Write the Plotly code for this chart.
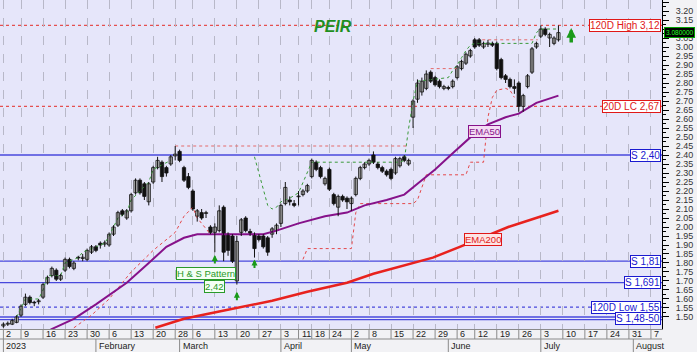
import pandas as pd
import plotly.graph_objects as go

# ---------------- data ----------------
holidays = ["2023-01-06", "2023-02-27", "2023-04-07", "2023-04-10",
            "2023-04-14", "2023-04-17", "2023-05-01", "2023-06-05"]

opens = [1.450, 1.460, 1.460, 1.470, 1.510, 1.570, 1.610, 1.580, 1.585, 1.610,
         1.690, 1.730, 1.760, 1.710, 1.760, 1.820, 1.770, 1.830, 1.825, 1.820,
         1.860, 1.890, 1.910, 1.905, 1.900, 1.960, 2.010, 2.090, 2.050, 2.090,
         2.190, 2.260, 2.240, 2.140, 2.250, 2.330, 2.360, 2.330, 2.350, 2.395,
         2.420, 2.330, 2.280, 2.200, 2.060, 2.080, 2.075, 2.000, 1.970, 1.980,
         2.110, 1.960, 1.950, 1.700, 1.970, 2.050, 1.975, 1.960, 1.950, 1.950,
         1.940, 1.960, 1.980, 2.020, 2.130, 2.150, 2.130, 2.168, 2.180, 2.200,
         2.280, 2.360, 2.330, 2.240, 2.320, 2.180, 2.110, 2.170, 2.160, 2.130,
         2.180, 2.270, 2.330, 2.350, 2.400, 2.350, 2.330, 2.310, 2.320, 2.300,
         2.340, 2.390, 2.350, 2.610, 2.710, 2.750, 2.770, 2.860, 2.830, 2.810,
         2.770, 2.775, 2.780, 2.830, 2.880, 2.910, 2.950, 3.040, 3.040, 3.000,
         3.015, 3.020, 3.020, 2.930, 2.840, 2.820, 2.780, 2.800, 2.670, 2.780,
         2.860, 3.000, 3.060, 3.100, 3.050, 3.020, 3.040]
highs = [1.470, 1.475, 1.490, 1.510, 1.570, 1.630, 1.620, 1.590, 1.600, 1.690,
         1.730, 1.780, 1.770, 1.740, 1.830, 1.830, 1.810, 1.840, 1.850, 1.880,
         1.900, 1.900, 1.920, 1.925, 1.970, 2.010, 2.090, 2.100, 2.100, 2.190,
         2.270, 2.270, 2.250, 2.250, 2.340, 2.390, 2.370, 2.340, 2.400, 2.450,
         2.430, 2.340, 2.300, 2.210, 2.100, 2.100, 2.090, 2.010, 2.020, 2.120,
         2.120, 1.970, 1.960, 1.950, 2.050, 2.060, 1.990, 1.970, 1.960, 1.960,
         1.950, 2.000, 2.020, 2.130, 2.250, 2.170, 2.150, 2.200, 2.210, 2.240,
         2.380, 2.370, 2.340, 2.280, 2.330, 2.190, 2.180, 2.180, 2.170, 2.170,
         2.280, 2.340, 2.360, 2.380, 2.420, 2.360, 2.340, 2.320, 2.330, 2.390,
         2.390, 2.400, 2.380, 2.710, 2.820, 2.830, 2.870, 2.870, 2.840, 2.820,
         2.790, 2.785, 2.820, 2.900, 2.930, 2.970, 2.990, 3.050, 3.050, 3.030,
         3.040, 3.030, 3.030, 2.940, 2.850, 2.830, 2.820, 2.810, 2.740, 2.850,
         3.000, 3.030, 3.120, 3.110, 3.080, 3.060, 3.120]
lows = [1.440, 1.450, 1.455, 1.465, 1.500, 1.560, 1.570, 1.560, 1.570, 1.600,
        1.680, 1.720, 1.700, 1.700, 1.750, 1.770, 1.760, 1.815, 1.810, 1.810,
        1.850, 1.860, 1.880, 1.890, 1.890, 1.950, 2.000, 2.060, 2.040, 2.080,
        2.180, 2.180, 2.150, 2.120, 2.240, 2.320, 2.250, 2.280, 2.340, 2.370,
        2.360, 2.250, 2.210, 2.090, 2.030, 2.040, 2.050, 1.960, 1.860, 1.970,
        1.810, 1.840, 1.800, 1.680, 1.950, 1.970, 1.950, 1.830, 1.920, 1.880,
        1.840, 1.940, 1.960, 2.000, 2.120, 2.120, 2.110, 2.120, 2.170, 2.190,
        2.270, 2.310, 2.270, 2.230, 2.200, 2.120, 2.060, 2.140, 2.100, 2.090,
        2.170, 2.260, 2.320, 2.340, 2.350, 2.320, 2.300, 2.280, 2.260, 2.290,
        2.330, 2.360, 2.340, 2.550, 2.690, 2.730, 2.760, 2.800, 2.780, 2.770,
        2.760, 2.760, 2.770, 2.820, 2.870, 2.900, 2.940, 2.990, 3.000, 2.990,
        3.000, 3.000, 2.870, 2.820, 2.800, 2.770, 2.740, 2.640, 2.640, 2.770,
        2.850, 2.990, 3.050, 3.060, 3.000, 3.010, 3.030]
closes = [1.460, 1.465, 1.480, 1.500, 1.560, 1.610, 1.580, 1.578, 1.590, 1.680,
          1.720, 1.770, 1.710, 1.730, 1.820, 1.780, 1.800, 1.828, 1.832, 1.870,
          1.890, 1.870, 1.900, 1.912, 1.960, 2.000, 2.080, 2.070, 2.090, 2.180,
          2.260, 2.190, 2.170, 2.240, 2.330, 2.370, 2.280, 2.300, 2.390, 2.405,
          2.370, 2.260, 2.220, 2.100, 2.090, 2.050, 2.080, 1.970, 2.000, 2.090,
          1.860, 1.870, 1.810, 1.920, 2.040, 1.980, 1.965, 1.880, 1.930, 1.890,
          1.860, 1.990, 2.010, 2.120, 2.220, 2.140, 2.120, 2.172, 2.200, 2.230,
          2.370, 2.320, 2.280, 2.270, 2.210, 2.130, 2.170, 2.150, 2.140, 2.160,
          2.270, 2.330, 2.350, 2.370, 2.360, 2.330, 2.310, 2.290, 2.270, 2.380,
          2.380, 2.370, 2.370, 2.700, 2.800, 2.810, 2.850, 2.810, 2.790, 2.780,
          2.780, 2.770, 2.810, 2.890, 2.920, 2.960, 2.980, 3.000, 3.010, 3.020,
          3.022, 3.010, 2.880, 2.830, 2.820, 2.780, 2.770, 2.670, 2.730, 2.840,
          2.990, 3.020, 3.100, 3.070, 3.070, 3.050, 3.080]

# EMA lines (trading-day index, value)
ema50_x = [10.7, 16, 21, 27, 28, 33, 37, 41, 44, 59, 62, 67, 73, 78, 82, 87, 91,
           94, 98, 102, 107, 110, 114, 117, 121, 126]
ema50_y = [1.43, 1.49, 1.57, 1.67, 1.69, 1.80, 1.89, 1.94, 1.96, 1.96, 1.98, 2.02,
           2.06, 2.08, 2.12, 2.15, 2.18, 2.24, 2.32, 2.41, 2.52, 2.57, 2.61, 2.63,
           2.69, 2.73]
ema200_x = [34.5, 41, 49, 55, 61, 69, 78, 84, 91.5, 97.5, 103.6, 107.6, 114.6,
            119.7, 126]
ema200_y = [1.44, 1.49, 1.53, 1.56, 1.59, 1.64, 1.69, 1.74, 1.79, 1.83, 1.89,
            1.93, 2.00, 2.04, 2.09]

# trailing stop lines (dotted)
red_trail1_x = [16, 20, 24, 29, 34, 39, 41, 43, 44, 46, 47]
red_trail1_y = [1.44, 1.51, 1.60, 1.75, 1.87, 1.97, 2.06, 2.11, 2.05, 1.99, 1.96]
red_trail2_x = [68, 69, 79, 80, 81, 93, 94, 95, 96, 105, 106, 109, 110, 111, 112,
                114, 115, 116]
red_trail2_y = [1.82, 1.88, 1.88, 2.08, 2.13, 2.13, 2.15, 2.22, 2.29, 2.29, 2.36,
                2.36, 2.61, 2.72, 2.76, 2.77, 2.76, 2.72]
green_trail0_x = [3, 4, 5, 8, 9, 10, 13, 14, 17, 18, 22, 23, 24, 26, 28, 29, 33,
                  34, 38]
green_trail0_y = [1.50, 1.55, 1.60, 1.60, 1.65, 1.73, 1.73, 1.80, 1.83, 1.86, 1.90,
                  1.91, 1.95, 2.05, 2.08, 2.15, 2.25, 2.32, 2.37]
green_trail_x = [57, 58, 59, 60, 61, 62, 63, 65, 67, 68, 69, 70, 90, 91, 92, 93,
                 94, 101, 102, 103, 104, 105, 106, 107, 120, 121, 122, 126]
green_trail_y = [2.39, 2.30, 2.20, 2.12, 2.10, 2.11, 2.14, 2.16, 2.19, 2.25, 2.30,
                 2.36, 2.36, 2.37, 2.55, 2.70, 2.81, 2.83, 2.87, 2.90, 2.94, 2.98,
                 3.01, 3.02, 3.02, 3.08, 3.10, 3.10]
# short red resistance segments
res_segments = [(39, 92, 2.45), (97, 103, 2.88), (108.7, 121.3, 3.04)]

# horizontal levels
support_levels = [2.40, 1.81, 1.691, 1.50, 1.485]
level_labels = [("120D High 3,12", 3.12, "red"), ("20D LC 2,67", 2.67, "red"),
                ("S 2,40", 2.40, "blue"), ("S 1,81", 1.81, "blue"),
                ("S 1,691", 1.691, "blue"), ("120D Low 1,55", 1.555, "blue"),
                ("S 1,48-50", 1.4925, "blue")]
dotted_red_levels = [3.12, 2.67]
dotted_blue_levels = [1.555]
last_price = 3.08

tick_dates = ["2023-01-02", "2023-01-09", "2023-01-16", "2023-01-23", "2023-01-30",
              "2023-02-06", "2023-02-13", "2023-02-20", "2023-02-28", "2023-03-06",
              "2023-03-13", "2023-03-20", "2023-03-27", "2023-04-03", "2023-04-11",
              "2023-04-18", "2023-04-24", "2023-05-02", "2023-05-08", "2023-05-15",
              "2023-05-22", "2023-05-29", "2023-06-06", "2023-06-12", "2023-06-19",
              "2023-06-26", "2023-07-03", "2023-07-10", "2023-07-17", "2023-07-24",
              "2023-07-31", "2023-08-07"]
month_dates = ["2023-01-02", "2023-02-01", "2023-03-01", "2023-04-03", "2023-05-02",
               "2023-06-01", "2023-07-03", "2023-08-01"]
month_labels = ["2023", "February", "March", "April", "May", "June", "July", "August"]

y_ticks = [round(1.50 + 0.05 * k, 2) for k in range(36)]
hidden_tick_labels = [3.10]   # covered by the last-price tag

# ---------------- build ----------------
days = [d for d in pd.bdate_range("2023-01-02", "2023-08-31")
        if d.strftime("%Y-%m-%d") not in holidays]
day_index = {d.strftime("%Y-%m-%d"): i for i, d in enumerate(days)}
n = len(closes)
idx = list(range(n))

fig = go.Figure()

for xs, ys in [(red_trail1_x, red_trail1_y), (red_trail2_x, red_trail2_y)]:
    fig.add_trace(go.Scatter(x=xs, y=ys, mode="lines",
                             line=dict(color="#e4484a", width=1, dash="dot")))
for xs, ys in [(green_trail0_x, green_trail0_y), (green_trail_x, green_trail_y)]:
    fig.add_trace(go.Scatter(x=xs, y=ys, mode="lines",
                             line=dict(color="#3a9a3a", width=1, dash="dot")))
for x0, x1, v in res_segments:
    fig.add_trace(go.Scatter(x=[x0, x1], y=[v, v], mode="lines",
                             line=dict(color="#e46a6a", width=1, dash="dot")))

fig.add_trace(go.Scatter(x=ema200_x, y=ema200_y, mode="lines",
                         line=dict(color="#e8221e", width=2.5)))
fig.add_trace(go.Scatter(x=ema50_x, y=ema50_y, mode="lines",
                         line=dict(color="#86128a", width=2)))

wx, wy = [], []
for i in idx:
    wx += [i, i, None]
    wy += [lows[i], highs[i], None]
fig.add_trace(go.Scatter(x=wx, y=wy, mode="lines", line=dict(color="#111", width=1)))

for up in (True, False):
    sel = [i for i in idx if (closes[i] >= opens[i]) == up]
    base = [min(opens[i], closes[i]) for i in sel]
    hgt = [max(abs(closes[i] - opens[i]), 0.004) for i in sel]
    fig.add_trace(go.Bar(x=sel, y=hgt, base=base, width=0.75,
                         marker=dict(color="#d6d6d6" if up else "#111111",
                                     line=dict(color="#111111", width=0.8))))

shapes = []
for v in support_levels:
    shapes.append(dict(type="line", xref="paper", x0=0, x1=1, yref="y", y0=v, y1=v,
                       line=dict(color="#4848dc", width=1.3), layer="below"))
for v in dotted_red_levels:
    shapes.append(dict(type="line", xref="paper", x0=0, x1=1, yref="y", y0=v, y1=v,
                       line=dict(color="#e45050", width=1.3, dash="dot"), layer="below"))
for v in dotted_blue_levels:
    shapes.append(dict(type="line", xref="paper", x0=0, x1=1, yref="y", y0=v, y1=v,
                       line=dict(color="#4848dc", width=1.3, dash="dot"), layer="below"))

plot_h = 352 - 23
row1 = -10 / plot_h
row2 = -23 / plot_h
tick_idx = [day_index[d] for d in tick_dates]
annotations = []
for d, t in zip(tick_dates, tick_idx):
    shapes.append(dict(type="line", xref="x", x0=t, x1=t, yref="paper", y0=0, y1=row1,
                       line=dict(color="#8a8a8a", width=1)))
    annotations.append(dict(x=t, xref="x", y=row1 / 2, yref="paper", text=str(int(d[-2:])),
                            showarrow=False, xanchor="left", yanchor="middle", xshift=1,
                            font=dict(size=9, color="#222")))
shapes.append(dict(type="line", xref="paper", x0=0, x1=1, yref="paper", y0=row1, y1=row1,
                   line=dict(color="#8a8a8a", width=1)))
for d, lab in zip(month_dates, month_labels):
    t = day_index[d]
    shapes.append(dict(type="line", xref="x", x0=t, x1=t, yref="paper", y0=row1, y1=row2,
                       line=dict(color="#8a8a8a", width=1)))
    annotations.append(dict(x=t, xref="x", y=(row1 + row2) / 2, yref="paper", text=lab,
                            showarrow=False, xanchor="left", yanchor="middle", xshift=1,
                            font=dict(size=9, color="#222")))

colors = {"red": ("#e01818", "#ffffff"), "blue": ("#1a1ad0", "#ffffff")}
for text, v, c in level_labels:
    fc, bg = colors[c]
    annotations.append(dict(x=1, xref="paper", y=v, yref="y", text=text, showarrow=False,
                            xanchor="right", yanchor="middle", xshift=-1,
                            font=dict(size=10, color=fc), bgcolor=bg, bordercolor=fc,
                            borderwidth=1, borderpad=0))

annotations.append(dict(x=1, xref="paper", y=last_price, yref="y", text="3.080000",
                        showarrow=False, xanchor="left", yanchor="middle", xshift=2,
                        font=dict(size=6.5, color="#22ff22"), bgcolor="#000000",
                        bordercolor="#00a000", borderwidth=1, borderpad=1))

annotations.append(dict(x=0.503, xref="paper", y=1 - 16 / plot_h, yref="paper",
                        text="<b><i>PEIR</i></b>", showarrow=False,
                        font=dict(size=16, color="#1f8f1f")))

box_labels = [("H & S Pattern", 45.9, 1.744, "#2a9a2a", "#f4fff4"),
              ("2,42", 47.9, 1.672, "#2a9a2a", "#f4fff4"),
              ("EMA50", 109.3, 2.533, "#86128a", "#f4dcf4"),
              ("EMA200", 108.9, 1.933, "#e01818", "#fde4e4")]
for text, bx, by, fc, bg in box_labels:
    annotations.append(dict(x=bx, y=by, xref="x", yref="y", text=text, showarrow=False,
                            font=dict(size=9.5, color=fc), bgcolor=bg,
                            bordercolor=fc, borderwidth=1, borderpad=0))

for ax_i, ay_v, big in [(48, 1.845, False), (53, 1.64, False), (57, 1.82, False),
                        (128.9, 3.105, True)]:
    annotations.append(dict(x=ax_i, y=ay_v, xref="x", yref="y", ax=0,
                            ay=16 if big else 10, text="",
                            showarrow=True, arrowhead=2,
                            arrowsize=0.55 if big else 0.6,
                            arrowwidth=3.5 if big else 2,
                            arrowcolor="#1a9a1a"))

fig.update_layout(
    width=697, height=352,
    margin=dict(l=0, r=35, t=0, b=23),
    paper_bgcolor="#f2f2f5", plot_bgcolor="#e6e6fa",
    showlegend=False, barmode="overlay",
    font=dict(family="Liberation Sans, Arial, sans-serif"),
    shapes=shapes, annotations=annotations,
    xaxis=dict(range=[-0.772, 149.51], tickvals=tick_idx, showticklabels=False,
               ticks="", showgrid=True, gridcolor="#b8b8c8", griddash="dash",
               gridwidth=1, zeroline=False, showline=True, linecolor="#8a8a8a",
               linewidth=1, fixedrange=True),
    yaxis=dict(side="right", range=[1.4333, 3.2611], tickvals=y_ticks,
               ticktext=["" if v in hidden_tick_labels else f"{v:.2f}" for v in y_ticks],
               ticks="outside", ticklen=6,
               tickcolor="#000", showline=True, linecolor="#000", linewidth=1,
               showgrid=False, zeroline=False, tickfont=dict(size=9, color="#333"),
               ticklabelstandoff=5,
               minor=dict(tickvals=[round(v + 0.025, 3) for v in y_ticks[:-1]],
                          ticks="outside", ticklen=3, tickcolor="#000"),
               fixedrange=True),
)

fig.write_html("out.html")
